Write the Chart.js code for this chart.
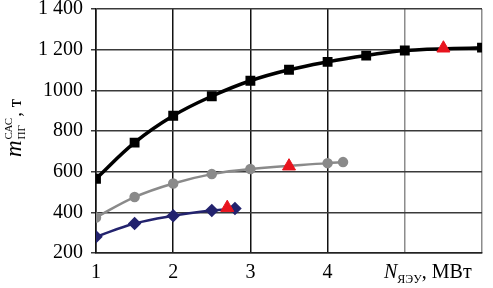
<!DOCTYPE html>
<html>
<head>
<meta charset="utf-8">
<script src="https://cdn.jsdelivr.net/npm/chart.js@4"></script>
<style>
  html, body { margin: 0; padding: 0; background: #fff; }
  #wrap { width: 493px; height: 288px; position: relative; }
</style>
</head>
<body>
<div id="wrap"><canvas id="grafica"></canvas></div>
<script>
// values
const blackX = [1, 1.5, 2, 2.5, 3, 3.5, 4, 4.5, 5, 6];
const blackY = [565, 743, 875, 971, 1047, 1101, 1140, 1171, 1196, 1210];
const grayX = [1, 1.5, 2, 2.5, 3, 4, 4.2];
const grayY = [375, 475, 542, 588, 613, 642, 647];
const navyX = [1, 1.5, 2, 2.5, 2.8];
const navyY = [280, 345, 383, 409, 419];
const redX = [5.5, 3.5, 2.7];
const redY = [1207, 627, 423];
const yTickLabels = { 200: '200', 400: '400', 600: '600', 800: '800', 1000: '1000', 1200: '1 200', 1400: '1 400' };
const xTickLabels = { 1: '1', 2: '2', 3: '3', 4: '4' };

const toPoints = (xs, ys) => xs.map((x, i) => ({ x: x, y: ys[i] }));
const serif = 'Liberation Serif';

const axisTitles = {
  id: 'axisTitles',
  afterDraw(chart) {
    const ctx = chart.ctx;
    ctx.save();
    ctx.fillStyle = '#000';
    ctx.textBaseline = 'alphabetic';
    // y title: m^{CAC}_{ПГ}, т
    ctx.translate(21, 157);
    ctx.rotate(-Math.PI / 2);
    ctx.font = 'italic 23px ' + serif;
    ctx.fillText('m', 0, 0);
    let w = ctx.measureText('m').width + 1;
    ctx.font = '11px ' + serif;
    ctx.fillText('САС', w, -9);
    ctx.fillText('ПГ', w, 4);
    w += Math.max(ctx.measureText('САС').width, ctx.measureText('ПГ').width) + 1;
    ctx.font = '19px ' + serif;
    ctx.fillText(', т', w, 0);
    ctx.restore();

    // x title: N_{ЯЭУ}, МВт
    ctx.save();
    ctx.fillStyle = '#000';
    ctx.textBaseline = 'alphabetic';
    let x = 384;
    ctx.font = 'italic 20px ' + serif;
    ctx.fillText('N', x, 278);
    x += ctx.measureText('N').width;
    ctx.font = '12px ' + serif;
    ctx.fillText('ЯЭУ', x, 283);
    x += ctx.measureText('ЯЭУ').width;
    ctx.font = '20px ' + serif;
    ctx.fillText(', МВт', x, 278);
    ctx.restore();
  }
};

new Chart(document.getElementById('grafica').getContext('2d'), {
  type: 'scatter',
  data: {
    datasets: [
      {
        label: 'red',
        data: toPoints(redX, redY),
        showLine: false,
        pointStyle: 'triangle',
        pointRadius: 7.5,
        backgroundColor: '#e8141e',
        borderColor: '#e8141e',
        borderWidth: 1
      },
      {
        label: 'navy',
        data: toPoints(navyX, navyY),
        showLine: true,
        tension: 0.4,
        borderColor: '#23236e',
        backgroundColor: '#23236e',
        borderWidth: 2.5,
        pointStyle: 'rectRot',
        pointRadius: 5
      },
      {
        label: 'gray',
        data: toPoints(grayX, grayY),
        showLine: true,
        tension: 0.4,
        borderColor: '#8a8a8a',
        backgroundColor: '#8a8a8a',
        borderWidth: 2.5,
        pointStyle: 'circle',
        pointRadius: 4
      },
      {
        label: 'black',
        data: toPoints(blackX, blackY),
        showLine: true,
        tension: 0.4,
        borderColor: '#000',
        backgroundColor: '#000',
        borderWidth: 3.5,
        pointStyle: 'rect',
        pointRadius: 4.5
      }
    ]
  },
  options: {
    responsive: true,
    maintainAspectRatio: false,
    animation: false,
    layout: { padding: { left: 0, right: 11, top: 9, bottom: 0 } },
    plugins: {
      legend: { display: false },
      tooltip: { enabled: false }
    },
    scales: {
      x: {
        type: 'linear',
        min: 1,
        max: 6,
        afterFit: (s) => { s.height = 35; s.paddingLeft = 0; s.paddingRight = 0; },
        border: { color: '#222', width: 1.5 },
        grid: {
          color: (c) => (c.tick && c.tick.value >= 5 ? '#8c8c8c' : '#111'),
          lineWidth: 1.5,
          drawTicks: false
        },
        ticks: {
          stepSize: 1,
          padding: 8,
          color: '#000',
          font: { family: serif, size: 20 },
          callback: (v) => xTickLabels[v] || ''
        }
      },
      y: {
        min: 200,
        max: 1400,
        afterFit: (s) => { s.width = 96; s.paddingTop = 0; s.paddingBottom = 0; },
        border: { color: '#111', width: 1.5 },
        grid: {
          color: '#3a3a3a',
          lineWidth: 1.5,
          tickLength: 5
        },
        ticks: {
          stepSize: 200,
          padding: 8,
          color: '#000',
          font: { family: serif, size: 20 },
          callback: (v) => yTickLabels[v] || ''
        }
      }
    }
  },
  plugins: [axisTitles]
});
</script>
</body>
</html>
